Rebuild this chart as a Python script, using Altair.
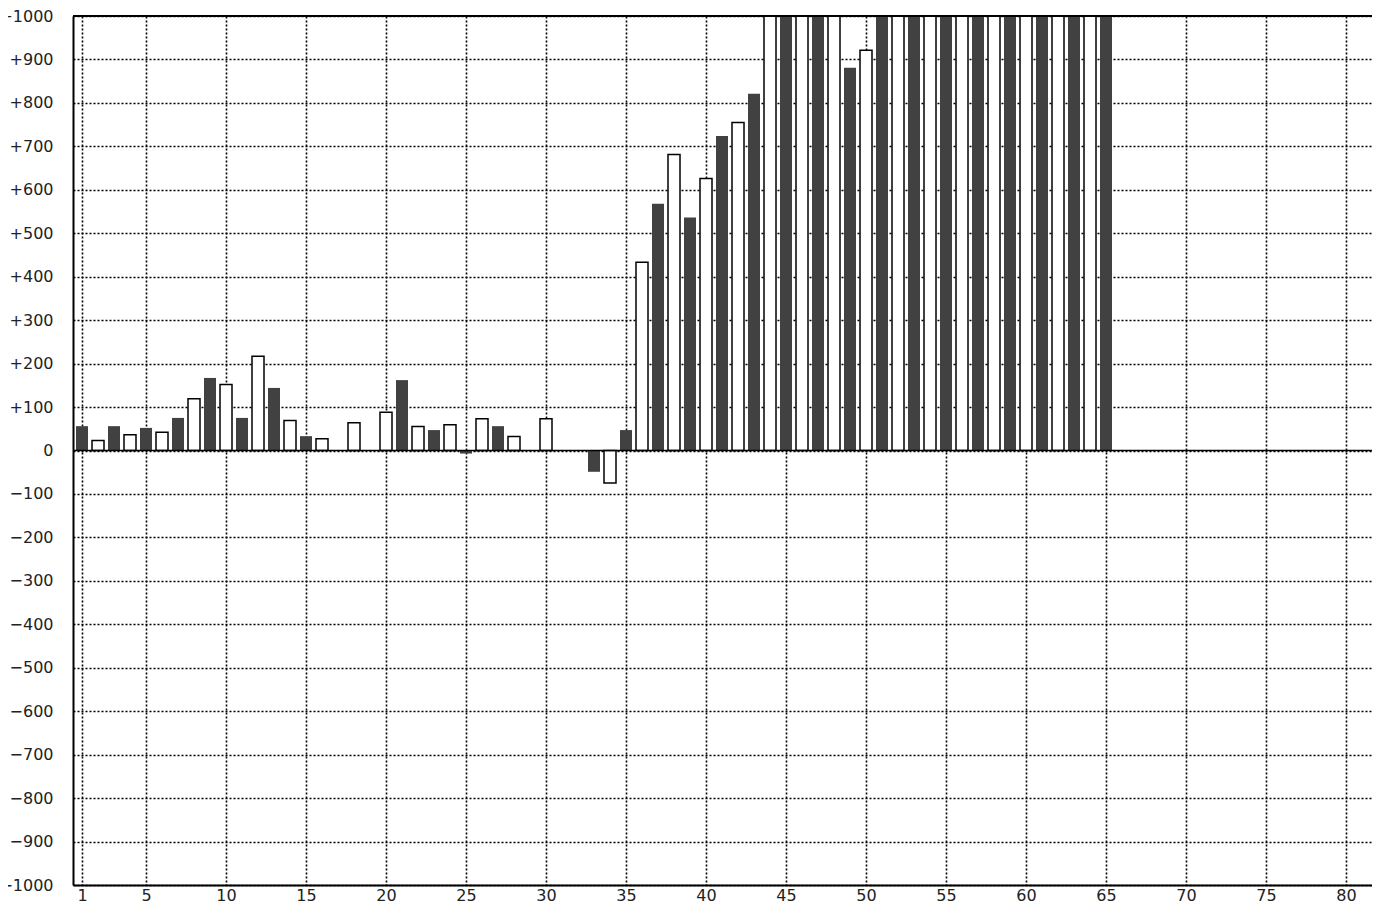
import altair as alt
import pandas as pd

# bar positions (1..80 axis) and values
positions = [1, 2, 3, 4, 5, 6, 7, 8, 9, 10, 11, 12, 13, 14, 15, 16, 18,
             20, 21, 22, 23, 24, 25, 26, 27, 28, 30, 33, 34, 35, 36, 37, 38,
             39, 40, 41, 42, 43, 44, 45, 46, 47, 48, 49, 50, 51, 52, 53, 54,
             55, 56, 57, 58, 59, 60, 61, 62, 63, 64, 65]
values = [56, 23, 56, 36, 52, 42, 75, 119, 167, 152, 75, 217, 144, 69, 33, 27, 64,
          88, 162, 55, 47, 59, -7, 73, 56, 32, 73, -49, -75, 47, 433, 568, 681,
          536, 626, 724, 755, 821, 1000, 1000, 1000, 1000, 1000, 881, 921, 1000, 1000, 1000, 1000,
          1000, 1000, 1000, 1000, 1000, 1000, 1000, 1000, 1000, 1000, 1000]

x_ticks = [1, 5, 10, 15, 20, 25, 30, 35, 40, 45, 50, 55, 60, 65, 70, 75, 80]
y_ticks = list(range(-1000, 1001, 100))
x_domain = [0.4375, 81.625]
y_domain = [-1000, 1000]

df = pd.DataFrame({"x": positions, "v": values})

FONT = "DejaVu Sans"

x_scale = alt.Scale(domain=x_domain, nice=False, zero=False, padding=0)
y_scale = alt.Scale(domain=y_domain, nice=False, padding=0)

x_enc = alt.X("x:Q", scale=x_scale,
              axis=alt.Axis(values=x_ticks, title=None, ticks=False, tickSize=0,
                            labelPadding=2, labelFlush=False, labelOverlap=False,
                            domainColor="black", domainWidth=2,
                            grid=True, gridColor="black", gridDash=[2, 2], gridWidth=1.6, gridOpacity=1))
y_enc = alt.Y("v:Q", scale=y_scale,
              axis=alt.Axis(values=y_ticks, title=None, ticks=False, tickSize=0,
                            labelPadding=20, labelFlush=False, labelOverlap=False,
                            labelExpr="datum.value > 0 ? '+' + datum.value : (datum.value < 0 ? '\u2212' + (-datum.value) : '0')",
                            domainColor="black", domainWidth=2,
                            grid=True, gridColor="black", gridDash=[2, 2], gridWidth=1.6, gridOpacity=1))

base = alt.Chart(df)

dark = base.transform_filter("datum.x % 2 == 1").mark_bar(
    size=12, color="#414141", clip=True
).encode(x=x_enc, y=y_enc, y2=alt.datum(0))

light = base.transform_filter("datum.x % 2 == 0").mark_bar(
    size=12, fill="white", stroke="black", strokeWidth=1.5, clip=True
).encode(x=alt.X("x:Q", scale=x_scale), y=alt.Y("v:Q", scale=y_scale), y2=alt.datum(0))

zero_rule = alt.Chart(pd.DataFrame({"y": [0]})).mark_rule(color="black", strokeWidth=1.5).encode(
    y=alt.Y("y:Q", scale=y_scale))
top_rule = alt.Chart(pd.DataFrame({"y": [1000]})).mark_rule(color="black", strokeWidth=2).encode(
    y=alt.Y("y:Q", scale=y_scale))

chart = alt.layer(dark, light, zero_rule, top_rule).properties(
    width=1299, height=869,
    autosize=alt.AutoSizeParams(type="none"),
    padding={"left": 65, "top": 8, "right": 0, "bottom": 20},
).configure_view(stroke=None).configure_axis(
    labelFont=FONT, labelFontSize=16, labelColor="#222222"
)

chart.save("out.html", embed_options={"renderer": "svg", "actions": False})
